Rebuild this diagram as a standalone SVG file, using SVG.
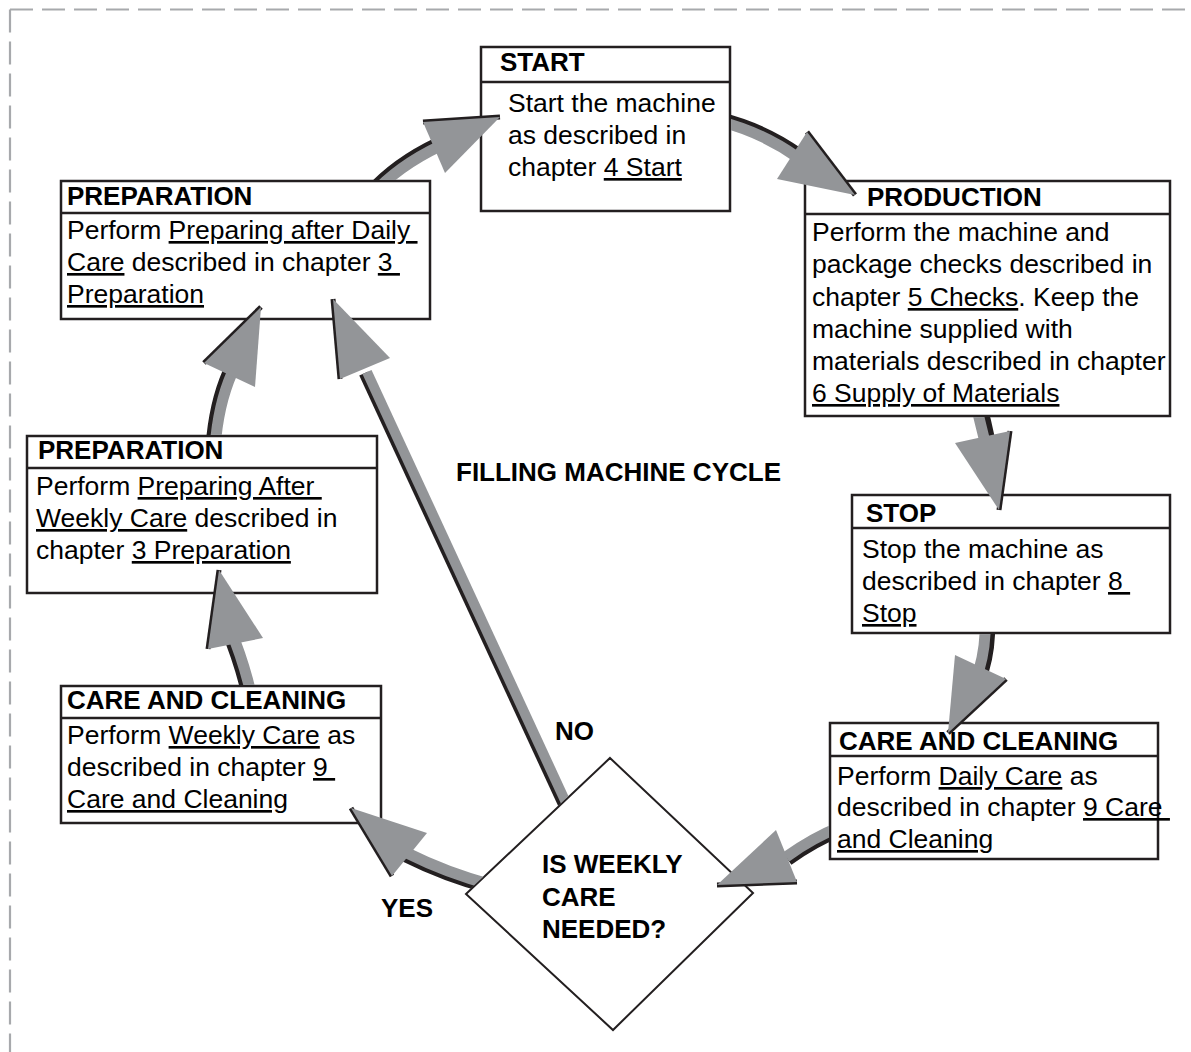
<svg xmlns="http://www.w3.org/2000/svg" width="1191" height="1052" viewBox="0 0 1191 1052">
<defs>
<style>
.box{fill:#fff;stroke:#231f20;stroke-width:2.5}
.dv{stroke:#231f20;stroke-width:2.5}
.t{font-family:"Liberation Sans",Arial,Helvetica,sans-serif;font-size:26.5px;fill:#000;white-space:pre}
.b{font-weight:bold;font-size:26px}
.u{text-decoration:underline}
.sd{fill:none;stroke:#231f20;stroke-width:11}
.sg{fill:none;stroke:#939598;stroke-width:11}
.hd{fill:none;stroke:#231f20;stroke-width:5}
.hg{fill:#939598}
.brd{fill:none;stroke:#a7a9ac;stroke-width:2.2;stroke-dasharray:23 9}
</style>
<clipPath id="outside">
<path clip-rule="evenodd" d="M0,0H1191V1052H0Z M480,46H731V212H480Z M60,180H431V320H60Z M804,180H1171V417H804Z M26,435H378V594H26Z M851,494H1171V634H851Z M60,685H382V824H60Z M829,722H1159V860H829Z M610,757L754,893L613,1031L465,894Z"/>
</clipPath>
</defs>
<rect x="0" y="0" width="1191" height="1052" fill="#fff"/>
<g id="border">
<path class="brd" d="M10,9.5H1191"/>
<path class="brd" d="M10,9.5V1052"/>
</g>

<g id="start">
<rect class="box" x="481" y="47" width="249" height="164"/>
<line class="dv" x1="481" y1="82" x2="730" y2="82"/>
<text class="t b" x="500" y="71">START</text>
<text class="t" x="508" y="112">Start the machine</text>
<text class="t" x="508" y="144">as described in</text>
<text class="t" x="508" y="176">chapter <tspan class="u">4 Start</tspan></text>
</g>

<g id="preparation-daily">
<rect class="box" x="61" y="181" width="369" height="138"/>
<line class="dv" x1="61" y1="213" x2="430" y2="213"/>
<text class="t b" x="67" y="205">PREPARATION</text>
<text class="t" x="67" y="239">Perform <tspan class="u">Preparing after Daily </tspan></text>
<text class="t" x="67" y="271"><tspan class="u">Care</tspan> described in chapter <tspan class="u">3 </tspan></text>
<text class="t" x="67" y="303"><tspan class="u">Preparation</tspan></text>
</g>

<g id="production">
<rect class="box" x="805" y="181" width="365" height="235"/>
<line class="dv" x1="805" y1="214" x2="1170" y2="214"/>
<text class="t b" x="867" y="206">PRODUCTION</text>
<text class="t" x="812" y="241">Perform the machine and</text>
<text class="t" x="812" y="273">package checks described in</text>
<text class="t" x="812" y="306">chapter <tspan class="u">5 Checks</tspan>. Keep the</text>
<text class="t" x="812" y="338">machine supplied with</text>
<text class="t" x="812" y="370">materials described in chapter</text>
<text class="t" x="812" y="402"><tspan class="u">6 Supply of Materials</tspan></text>
</g>

<g id="preparation-weekly">
<rect class="box" x="27" y="436" width="350" height="157"/>
<line class="dv" x1="27" y1="468" x2="377" y2="468"/>
<text class="t b" x="38" y="459">PREPARATION</text>
<text class="t" x="36" y="495">Perform <tspan class="u">Preparing After </tspan></text>
<text class="t" x="36" y="527"><tspan class="u">Weekly Care</tspan> described in</text>
<text class="t" x="36" y="559">chapter <tspan class="u">3 Preparation</tspan></text>
</g>

<g id="stop">
<rect class="box" x="852" y="495" width="318" height="138"/>
<line class="dv" x1="852" y1="528" x2="1170" y2="528"/>
<text class="t b" x="866" y="522">STOP</text>
<text class="t" x="862" y="558">Stop the machine as</text>
<text class="t" x="862" y="590">described in chapter <tspan class="u">8 </tspan></text>
<text class="t" x="862" y="622"><tspan class="u">Stop</tspan></text>
</g>

<g id="care-weekly">
<rect class="box" x="61" y="686" width="320" height="137"/>
<line class="dv" x1="61" y1="718" x2="381" y2="718"/>
<text class="t b" x="67" y="709">CARE AND CLEANING</text>
<text class="t" x="67" y="744">Perform <tspan class="u">Weekly Care</tspan> as</text>
<text class="t" x="67" y="776">described in chapter <tspan class="u">9 </tspan></text>
<text class="t" x="67" y="808"><tspan class="u">Care and Cleaning</tspan></text>
</g>

<g id="care-daily">
<rect class="box" x="830" y="723" width="328" height="136"/>
<line class="dv" x1="830" y1="756" x2="1158" y2="756"/>
<text class="t b" x="839" y="750">CARE AND CLEANING</text>
<text class="t" x="837" y="785">Perform <tspan class="u">Daily Care</tspan> as</text>
<text class="t" x="837" y="816">described in chapter <tspan class="u">9 Care </tspan></text>
<text class="t" x="837" y="848"><tspan class="u">and Cleaning</tspan></text>
</g>

<g id="decision">
<polygon points="610,758 753,893 613,1030 466,894" fill="#fff" stroke="#231f20" stroke-width="2"/>
<text class="t b" x="542" y="873">IS WEEKLY</text>
<text class="t b" x="542" y="906">CARE</text>
<text class="t b" x="542" y="938">NEEDED?</text>
</g>

<g id="labels">
<text class="t b" x="456" y="481">FILLING MACHINE CYCLE</text>
<text class="t b" x="555" y="740">NO</text>
<text class="t b" x="381" y="917">YES</text>
</g>

<g id="connectors">
<g clip-path="url(#outside)">
<path class="sd" d="M369.6,191.8 Q395.6,162.8 437.6,142.8"/>
<path class="sg" d="M372,195 Q398,166 440,146"/>
<path class="sd" d="M720.1,117.6 Q764.1,128.6 799.1,153.6"/>
<path class="sg" d="M718,121 Q762,132 797,157"/>
<path class="sd" d="M981,404 Q986,421 990,441"/>
<path class="sg" d="M976,405 Q980,422 985,442"/>
<path class="sd" d="M989.5,623 Q990.5,647 983.5,671"/>
<path class="sg" d="M985,622 Q986,646 979,670"/>
<path class="sd" d="M844.2,829.4 Q814.2,841.4 788.2,860.4"/>
<path class="sg" d="M842,826 Q812,838 786,857"/>
<path class="sd" d="M490,888.5 Q445,876.5 405,856.5"/>
<path class="sg" d="M492,885 Q447,873 407,853"/>
<path class="sd" d="M248,699 Q242,671 231,642"/>
<path class="sg" d="M252,698 Q246,670 235,641"/>
<path class="sd" d="M211,447 Q214,404 228,372"/>
<path class="sg" d="M215,448 Q218,405 232,373"/>
<path class="sd" d="M570.8,821.5 L363.8,373.5" style="stroke-width:10"/>
<path class="sg" d="M574,820 L367,372" style="stroke-width:10"/>
</g>
<line class="hd" x1="423" y1="122" x2="500" y2="117"/>
<polygon class="hg" points="423,122 500,117 445,173"/>
<line class="hd" x1="807" y1="132" x2="855" y2="195"/>
<polygon class="hg" points="807,132 855,195 777,179"/>
<line class="hd" x1="1010" y1="431" x2="999" y2="510"/>
<polygon class="hg" points="955,443 1010,431 999,510"/>
<line class="hd" x1="1006" y1="679" x2="948" y2="733"/>
<polygon class="hg" points="955,655 1006,679 948,733"/>
<line class="hd" x1="797" y1="882" x2="717" y2="885"/>
<polygon class="hg" points="776,830 797,882 717,885"/>
<line class="hd" x1="351" y1="808" x2="392" y2="876"/>
<polygon class="hg" points="351,808 427,833 392,876"/>
<line class="hd" x1="219" y1="570" x2="208" y2="649"/>
<polygon class="hg" points="219,570 208,649 263,638"/>
<line class="hd" x1="204" y1="363" x2="261" y2="307"/>
<polygon class="hg" points="204,363 261,307 255,387"/>
<line class="hd" x1="333" y1="299" x2="340" y2="379"/>
<polygon class="hg" points="333,299 340,379 390,358"/>
</g>
</svg>
